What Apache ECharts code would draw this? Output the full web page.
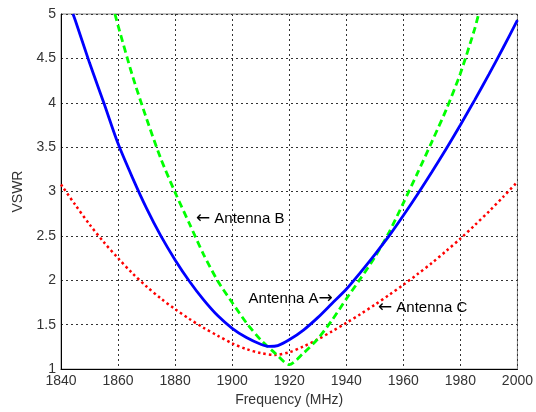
<!DOCTYPE html>
<html>
<head>
<meta charset="utf-8">
<script src="https://cdn.jsdelivr.net/npm/echarts@6/dist/echarts.min.js"></script>
<style>html,body{margin:0;padding:0;background:#fff}#c{width:536px;height:412px}</style>
</head>
<body>
<div id="c"></div>
<script>
// Frequencies (MHz) and VSWR values
const freqA = [1844.2,1845,1850,1855,1860,1865,1870,1875,1880,1885,1890,1895,1900,1905,1910,1913,1916,1920,1925,1930,1935,1940,1945,1950,1955,1960,1965,1970,1975,1980,1985,1990,1995,2000];
const vswrA = [5.0,4.93,4.45,4.0,3.54,3.16,2.81,2.50,2.23,1.99,1.78,1.60,1.46,1.355,1.28,1.255,1.265,1.33,1.44,1.58,1.74,1.90,2.09,2.29,2.50,2.73,2.97,3.22,3.48,3.75,4.03,4.32,4.62,4.93];

const freqB = [1858.9,1860,1865,1870,1875,1880,1885,1890,1895,1900,1905,1910,1915,1920,1925,1930,1935,1940,1945,1950,1955,1960,1965,1970,1975,1980,1985,1986.4];
const vswrB = [5.0,4.87,4.31,3.82,3.37,2.99,2.64,2.29,1.99,1.75,1.52,1.33,1.18,1.05,1.18,1.34,1.55,1.79,2.02,2.26,2.54,2.87,3.21,3.56,3.92,4.33,4.83,5.0];

const freqC = [1840,1845,1850,1855,1860,1865,1870,1875,1880,1885,1890,1895,1900,1905,1910,1915,1920,1925,1930,1935,1940,1945,1950,1955,1960,1965,1970,1975,1980,1985,1990,1995,2000];
const vswrC = [3.08,2.85,2.63,2.43,2.25,2.08,1.93,1.795,1.675,1.565,1.465,1.375,1.29,1.225,1.18,1.16,1.19,1.255,1.335,1.425,1.52,1.62,1.725,1.835,1.95,2.07,2.195,2.33,2.47,2.62,2.775,2.94,3.11];

const xTicks = [1840,1860,1880,1900,1920,1940,1960,1980,2000];
const yTicks = [1,1.5,2,2.5,3,3.5,4,4.5,5];

// Annotation texts with anchor positions in data coordinates
const notes = [
  {label:'Antenna B', arrow:'left',  x:1887.3, y:2.69, align:'left'},
  {label:'Antenna A', arrow:'right', x:1935.3, y:1.795, align:'right'},
  {label:'Antenna C', arrow:'left',  x:1951.1, y:1.69, align:'left'}
];

const zip = (xs, ys) => xs.map((x,i)=>[x, ys[i]]);
const font = '"Liberation Sans", Arial, sans-serif';

const chart = echarts.init(document.getElementById('c'), null, {renderer:'canvas'});
const option = {
  animation:false,
  backgroundColor:'#fff',
  grid:{left:61, right:18, top:14, bottom:37, show:true, borderColor:'#808080', borderWidth:1},
  xAxis:{
    type:'value', min:xTicks[0], max:xTicks[xTicks.length-1], interval:20,
    name:'Frequency (MHz)', nameLocation:'middle', nameGap:23,
    nameTextStyle:{fontFamily:font, fontSize:14, color:'#333'},
    axisLine:{show:true, onZero:false, lineStyle:{color:'#000', width:1}},
    axisTick:{show:false},
    axisLabel:{fontFamily:font, fontSize:14, color:'#333', margin:5, formatter:v=>String(v)},
    splitLine:{show:true, lineStyle:{color:'#333', width:1, type:[2,3]}}
  },
  yAxis:{
    type:'value', min:yTicks[0], max:yTicks[yTicks.length-1], interval:0.5,
    name:'VSWR', nameLocation:'middle', nameGap:31, nameRotate:90,
    nameTextStyle:{fontFamily:font, fontSize:14, color:'#333'},
    axisLine:{show:true, onZero:false, lineStyle:{color:'#000', width:1}},
    axisTick:{show:false},
    axisLabel:{fontFamily:font, fontSize:14, color:'#333', margin:5, formatter:v=>String(v)},
    splitLine:{show:true, lineStyle:{color:'#333', width:1, type:[2,3]}}
  },
  series:[
    {name:'Antenna C', type:'line', data:zip(freqC,vswrC), smooth:0.3, showSymbol:false,
     lineStyle:{color:'#ff0000', width:2.5, type:[2.5,3]}, z:2},
    {name:'Antenna B', type:'line', data:zip(freqB,vswrB), smooth:0.25, showSymbol:false,
     lineStyle:{color:'#00ff00', width:2.8, type:[7,4]}, z:3},
    {name:'Antenna A', type:'line', data:zip(freqA,vswrA), smooth:0.3, showSymbol:false,
     lineStyle:{color:'#0000ff', width:2.8}, z:4}
  ]
};
chart.setOption(option);

const g = notes.map(n => {
  const p = chart.convertToPixel({gridIndex:0}, [n.x, n.y]);
  const txt = n.arrow === 'left' ? '{ar|\u2190}{t| ' + n.label + '}' : '{t|' + n.label + '}{ar|\u2192}';
  return {type:'text', x:p[0], y:p[1], z:10,
    style:{text:txt, fill:'#000', textAlign:n.align, textVerticalAlign:'middle',
      rich:{
        t:{fontFamily:font, fontSize:15, fill:'#000', color:'#000'},
        ar:{fontFamily:'"DejaVu Sans", sans-serif', fontSize:17, fill:'#000', color:'#000'}
      }}};
});
chart.setOption({graphic:g});
</script>
</body>
</html>
